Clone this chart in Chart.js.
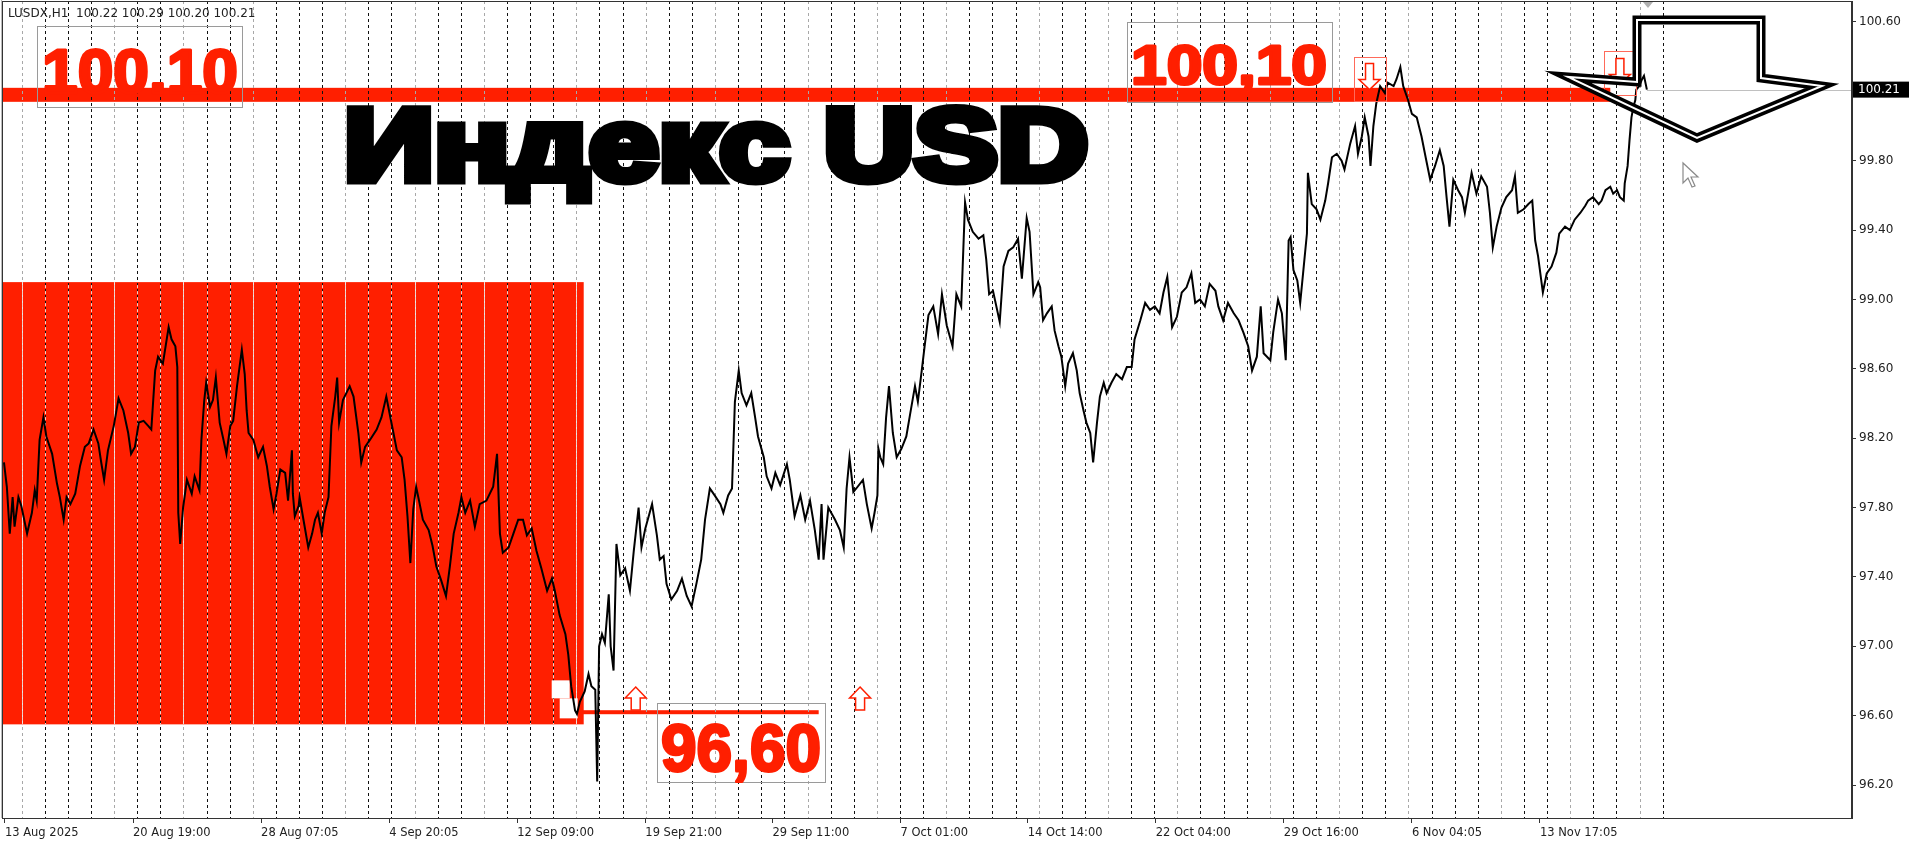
<!DOCTYPE html>
<html lang="ru">
<head>
<meta charset="UTF-8">
<title>Индекс USD</title>
<script src="https://cdn.jsdelivr.net/npm/chart.js@4.4.1/dist/chart.umd.min.js"></script>
<style>
  html, body { margin: 0; padding: 0; background: #fff; }
  #wrap { width: 1919px; height: 841px; }
</style>
</head>
<body>
<div id="wrap"><canvas id="usdx" width="1919" height="841"></canvas></div>
<script>
// H1 bar number counted from 13 Aug 2025 00:00, and the close
const bars = [
  0, 3, 6, 9, 11, 15, 18, 24, 29, 32, 34, 37, 41, 44, 50, 55, 58, 62, 65, 69,
  74, 79, 84, 88, 93, 98, 101, 104, 108, 114, 119, 124, 129, 132, 136, 140, 145, 150, 153, 157,
  160, 165, 171, 174, 178, 180, 181, 183, 186, 190, 195, 198, 203, 205, 208, 210, 214, 217, 220, 224,
  228, 231, 235, 238, 242, 247, 250, 252, 254, 259, 264, 269, 273, 276, 280, 283, 287, 292, 295, 299,
  300, 302, 306, 307, 311, 316, 320, 323, 326, 330, 333, 337, 340, 344, 346, 348, 352, 359, 363, 368,
  371, 375, 380, 387, 392, 397, 403, 408, 413, 416, 419, 422, 425, 428, 431, 435, 441, 445, 449, 454,
  459, 463, 467, 472, 475, 479, 484, 489, 494, 501, 508, 512, 515, 518, 524, 529, 534,
  539, 543, 548, 553, 558, 564, 569, 572, 577, 583, 586, 589, 593, 595, 598, 603, 607, 610, 614, 616,
  618, 621, 624, 628, 630, 633, 636, 640, 645, 650, 654, 659, 662, 666, 673, 678, 681, 685, 688, 693,
  699, 704, 709, 714, 719, 724, 728, 733, 738, 744, 747, 752, 756, 759, 763, 766, 771, 776, 780, 783,
  789, 792, 797, 801, 806, 813, 816, 821, 827, 832, 837, 842, 846, 849, 851, 856, 863, 868, 872, 875,
  878, 882, 885, 892, 896, 901, 904, 907, 908, 910, 913, 916, 919, 923, 927, 932, 937, 941, 946, 949,
  953, 956, 960, 965, 970, 974, 979, 985, 989, 994, 998, 1001, 1006, 1012, 1017, 1020, 1023, 1027, 1034, 1038,
  1043, 1048, 1053, 1057, 1062, 1065, 1069, 1074,
  1076, 1079, 1083, 1088, 1091, 1095, 1098, 1102, 1105, 1110, 1114, 1117, 1121, 1124, 1128, 1131, 1135, 1138, 1142, 1145,
  1150, 1155, 1161, 1166, 1171, 1174, 1180, 1185, 1190, 1195, 1200, 1204, 1208, 1213, 1218, 1223, 1228, 1233, 1237, 1242,
  1247, 1252, 1258, 1261, 1266, 1271, 1277, 1282, 1287, 1292, 1296, 1301, 1305, 1308, 1315, 1318, 1323, 1327, 1331, 1334,
  1336, 1339, 1343, 1346, 1349, 1353, 1354, 1358, 1363, 1367, 1372, 1375, 1379, 1384, 1389, 1392, 1398, 1403, 1406, 1410,
  1413, 1417, 1419, 1422, 1425, 1429, 1434, 1437, 1443, 1446, 1450, 1453, 1458, 1462, 1467, 1472, 1477, 1481, 1486, 1491,
  1495, 1498, 1501, 1505, 1510, 1514, 1517, 1521, 1524, 1529, 1534, 1540, 1543, 1546, 1550, 1555, 1560, 1566, 1569, 1572,
  1578, 1583, 1587, 1590, 1593, 1598, 1602, 1607, 1612, 1615,
  1621, 1626, 1631, 1637, 1642, 1645, 1650, 1656, 1659, 1663, 1668, 1671, 1675, 1678, 1682, 1683, 1686, 1688, 1690, 1692,
  1694, 1695, 1698, 1701, 1703, 1706
];
const closes = [
  98.06, 97.92, 97.65, 97.86, 97.69, 97.86, 97.81, 97.65, 97.77, 97.90, 97.84, 98.19, 98.32, 98.21, 98.11, 97.94, 97.86, 97.73, 97.86, 97.82,
  97.88, 98.04, 98.15, 98.17, 98.25, 98.17, 98.06, 97.96, 98.13, 98.27, 98.43, 98.36, 98.23, 98.11, 98.15, 98.29, 98.30, 98.27, 98.25, 98.59,
  98.67, 98.63, 98.84, 98.77, 98.73, 98.61, 97.77, 97.59, 97.80, 97.96, 97.88, 97.98, 97.90, 98.19, 98.42, 98.52, 98.38, 98.42, 98.55, 98.29,
  98.19, 98.11, 98.27, 98.30, 98.50, 98.71, 98.57, 98.36, 98.23, 98.19, 98.09, 98.15, 98.04, 97.92, 97.79, 97.88, 98.02, 98.00, 97.84, 98.13,
  97.88, 97.75, 97.81, 97.86, 97.73, 97.57, 97.65, 97.73, 97.77, 97.65, 97.77, 97.86, 98.27, 98.44, 98.55, 98.29, 98.42, 98.50, 98.44, 98.23,
  98.06, 98.15, 98.19, 98.25, 98.32, 98.44, 98.27, 98.13, 98.09, 97.96, 97.75, 97.48, 97.79, 97.92, 97.84, 97.73, 97.67, 97.58, 97.46, 97.38,
  97.29, 97.46, 97.65, 97.77, 97.86, 97.77, 97.84, 97.69, 97.82, 97.84, 97.92, 98.11, 97.65, 97.54, 97.57, 97.65, 97.73,
  97.73, 97.64, 97.68, 97.55, 97.45, 97.32, 97.39, 97.32, 97.18, 97.07, 96.95, 96.77, 96.63, 96.61, 96.68, 96.74, 96.84, 96.77, 96.75, 96.22,
  97.00, 97.07, 97.02, 97.30, 97.00, 96.86, 97.59, 97.41, 97.45, 97.32, 97.55, 97.80, 97.57, 97.68, 97.82, 97.64, 97.50, 97.52, 97.36, 97.27,
  97.32, 97.39, 97.29, 97.23, 97.36, 97.50, 97.73, 97.91, 97.87, 97.82, 97.77, 97.87, 97.91, 98.41, 98.59, 98.46, 98.39, 98.46, 98.32, 98.21,
  98.09, 97.98, 97.91, 98.00, 97.93, 98.05, 97.96, 97.75, 97.87, 97.73, 97.84, 97.67, 97.50, 97.82, 97.50, 97.80, 97.73, 97.67, 97.57, 97.91,
  98.09, 97.89, 97.91, 97.96, 97.82, 97.68, 97.77, 97.87, 98.14, 98.09, 98.05, 98.32, 98.50, 98.23, 98.09, 98.14, 98.21, 98.34, 98.50, 98.41,
  98.59, 98.73, 98.91, 98.96, 98.80, 99.03, 98.85, 98.73, 99.03, 98.96, 99.56, 99.46, 99.39, 99.35, 99.37, 99.23, 99.03, 99.05, 98.87, 99.19,
  99.28, 99.30, 99.35, 99.12, 99.47, 99.39, 99.03, 99.10,
  99.07, 98.88, 98.92, 98.96, 98.82, 98.73, 98.67, 98.50, 98.63, 98.69, 98.59, 98.46, 98.36, 98.29, 98.23, 98.06, 98.29, 98.44, 98.52, 98.46,
  98.52, 98.57, 98.54, 98.61, 98.61, 98.77, 98.88, 98.98, 98.94, 98.96, 98.92, 99.04, 99.13, 98.84, 98.90, 99.04, 99.07, 99.15, 98.98, 99.00,
  98.96, 99.09, 99.05, 98.96, 98.88, 98.98, 98.92, 98.88, 98.81, 98.73, 98.59, 98.67, 98.96, 98.69, 98.65, 98.81, 99.00, 98.92, 98.65, 99.34,
  99.36, 99.17, 99.11, 98.98, 99.15, 99.38, 99.73, 99.55, 99.52, 99.46, 99.57, 99.67, 99.82, 99.84, 99.80, 99.75, 99.90, 100.00, 99.84, 99.94,
  100.05, 99.94, 99.77, 100.00, 100.13, 100.23, 100.19, 100.25, 100.23, 100.27, 100.34, 100.23, 100.15, 100.07, 100.05, 99.94, 99.80, 99.69, 99.77, 99.86,
  99.77, 99.59, 99.42, 99.69, 99.63, 99.59, 99.50, 99.63, 99.73, 99.61, 99.71, 99.65, 99.50, 99.30, 99.42, 99.53, 99.59, 99.63, 99.71, 99.50,
  99.52, 99.55, 99.57, 99.34, 99.25, 99.04, 99.15, 99.19, 99.27, 99.38,
  99.42, 99.40, 99.46, 99.50, 99.54, 99.57, 99.59, 99.55, 99.57, 99.63, 99.65, 99.61, 99.63, 99.59, 99.57, 99.67, 99.77, 99.92, 100.05, 100.11,
  100.15, 100.21, 100.23, 100.27, 100.29, 100.21
];

const timeLabels = ['13 Aug 2025', '20 Aug 19:00', '28 Aug 07:05', '4 Sep 20:05', '12 Sep 09:00', '19 Sep 21:00',
  '29 Sep 11:00', '7 Oct 01:00', '14 Oct 14:00', '22 Oct 04:00', '29 Oct 16:00', '6 Nov 04:05', '13 Nov 17:05'];
const timeLabelBars = [1, 134, 267, 400, 533, 666, 798, 931, 1063, 1196, 1329, 1462, 1595];
const priceTicks = [96.2, 96.6, 97.0, 97.4, 97.8, 98.2, 98.6, 99.0, 99.4, 99.8, 100.2, 100.6];

// drawn objects
const zoneBars = [-1, 602];
const zonePrices = [99.10, 96.55];
const resistance = 100.18;
const resistanceBars = [-1, 1668];
const support = 96.62;
const supportBars = [601, 846];
const lastPrice = 100.21;
const lastPriceFrom = 1706;
const upArrowBars = [656, 889];
const upArrowPrice = 96.765;
const downArrowBars = [1418, 1678];
const downArrowPrices = [100.21, 100.24];
const header = 'LUSDX,H1  100.22 100.29 100.20 100.21';

const RED = '#ff1f00';

function fitText(ctx, text, left, capTop, width, capH, color, stroke, join) {
  const size = capH / 0.716;
  ctx.save();
  ctx.font = 'bold ' + size + 'px "Liberation Sans", Arial, sans-serif';
  const w = ctx.measureText(text).width;
  ctx.translate(left, capTop + capH);
  ctx.scale(width / w, 1);
  ctx.textBaseline = 'alphabetic';
  ctx.textAlign = 'left';
  ctx.fillStyle = color;
  ctx.fillText(text, 0, 0);
  if (stroke) {
    ctx.lineWidth = stroke;
    ctx.lineJoin = join || 'round';
    ctx.miterLimit = 2;
    ctx.strokeStyle = color;
    ctx.strokeText(text, 0, 0);
  }
  ctx.restore();
}

function hollowArrow(ctx, cx, tipY, dir, w, h, shaftW, headH) {
  // dir = -1 points up, 1 points down
  const base = tipY - dir * h;
  const neck = tipY - dir * headH;
  ctx.beginPath();
  ctx.moveTo(cx, tipY);
  ctx.lineTo(cx + w / 2, neck);
  ctx.lineTo(cx + shaftW / 2, neck);
  ctx.lineTo(cx + shaftW / 2, base);
  ctx.lineTo(cx - shaftW / 2, base);
  ctx.lineTo(cx - shaftW / 2, neck);
  ctx.lineTo(cx - w / 2, neck);
  ctx.closePath();
  ctx.fillStyle = '#fff';
  ctx.fill();
  ctx.stroke();
}

const overlay = {
  id: 'overlay',
  beforeDatasetsDraw(chart) {
    const { ctx, chartArea: a, scales: { x, y } } = chart;
    ctx.save();
    ctx.beginPath();
    ctx.rect(a.left, a.top, a.width, a.height);
    ctx.clip();

    // red zone
    const zx1 = x.getPixelForValue(zoneBars[0]), zx2 = x.getPixelForValue(zoneBars[1]);
    const zy1 = y.getPixelForValue(zonePrices[0]), zy2 = y.getPixelForValue(zonePrices[1]);
    ctx.fillStyle = RED;
    ctx.fillRect(zx1, zy1, zx2 - zx1, zy2 - zy1);

    // resistance band
    const ry = y.getPixelForValue(resistance);
    const rx1 = x.getPixelForValue(resistanceBars[0]), rx2 = x.getPixelForValue(resistanceBars[1]);
    ctx.fillRect(rx1, ry - 7, rx2 - rx1, 14);

    // support line
    const sy = y.getPixelForValue(support);
    const sx1 = x.getPixelForValue(supportBars[0]), sx2 = x.getPixelForValue(supportBars[1]);
    ctx.fillRect(sx1, sy - 2, sx2 - sx1, 4);

    // last price line
    ctx.strokeStyle = '#c0c0c0';
    ctx.lineWidth = 1;
    const ly = Math.round(y.getPixelForValue(lastPrice)) + 0.5;
    ctx.beginPath();
    ctx.moveTo(x.getPixelForValue(lastPriceFrom), ly);
    ctx.lineTo(a.right, ly);
    ctx.stroke();

    // daily separators
    ctx.lineWidth = 1;
    for (let k = 0; k < 72; k++) {
      const sx = Math.round(x.getPixelForValue(18.4 + 24 * k)) + 0.5;
      const gray = [0, 4, 7].includes(k % 10);
      ctx.setLineDash([3, 3]);
      ctx.lineDashOffset = 0;
      ctx.strokeStyle = gray ? '#a8a8a8' : '#111';
      ctx.beginPath();
      ctx.moveTo(sx, a.top);
      ctx.lineTo(sx, a.bottom);
      ctx.stroke();
      // inside the red zone the gaps show light
      if (sx < zx2) {
        ctx.lineDashOffset = 3;
        ctx.strokeStyle = '#f4d0c8';
        ctx.beginPath();
        ctx.moveTo(sx, zy1);
        ctx.lineTo(sx, zy2);
        ctx.stroke();
        if (gray) {
          ctx.lineDashOffset = 0;
          ctx.strokeStyle = '#e6e6e6';
          ctx.beginPath();
          ctx.moveTo(sx, zy1);
          ctx.lineTo(sx, zy2);
          ctx.stroke();
        }
      }
    }
    ctx.setLineDash([]);

    // anchor squares at the zone corner
    ctx.fillStyle = '#fff';
    ctx.fillRect(zx2 - 32, zy2 - 44, 18, 18);
    ctx.fillRect(zx2 - 24, zy2 - 26, 18, 20);
    ctx.restore();
  },
  afterDatasetsDraw(chart) {
    const { ctx, chartArea: a, scales: { x, y } } = chart;
    ctx.save();

    // header
    ctx.font = '12px "DejaVu Sans", sans-serif';
    ctx.fillStyle = '#222';
    ctx.textBaseline = 'middle';
    ctx.fillText(header, 8, 14);

    // label boxes
    ctx.strokeStyle = '#9a9a9a';
    ctx.lineWidth = 1;
    ctx.strokeRect(37.5, 26.5, 205, 81);
    ctx.strokeRect(1127.5, 22.5, 205, 80);
    ctx.strokeRect(657.5, 703.5, 168, 79);

    fitText(ctx, '100.10', 42, 48, 196, 45, RED, 3);
    fitText(ctx, '100,10', 1131, 44, 196, 40, RED, 3);
    fitText(ctx, '96,60', 661, 723, 160, 48, RED, 3);
    fitText(ctx, 'Индекс USD', 344, 107, 744, 73, '#000', 9, 'miter');

    // small arrows
    ctx.strokeStyle = RED;
    ctx.lineWidth = 1.5;
    upArrowBars.forEach(b => {
      hollowArrow(ctx, x.getPixelForValue(b), y.getPixelForValue(upArrowPrice), -1, 21, 23, 9, 11);
    });
    downArrowBars.forEach((b, i) => {
      const cx = x.getPixelForValue(b), ty = y.getPixelForValue(downArrowPrices[i]);
      ctx.strokeStyle = '#ff6a5a';
      ctx.lineWidth = 1;
      ctx.strokeRect(Math.round(cx - 16) + 0.5, Math.round(ty - 33) + 0.5, 32, 44);
      ctx.strokeStyle = RED;
      ctx.lineWidth = 1.5;
      hollowArrow(ctx, cx, ty, 1, 21, 26, 8, 10);
    });

    // big down arrow
    const pts = [[1637, 20], [1761, 20], [1761, 78], [1822, 86], [1697, 138], [1568, 77], [1637, 82]];
    ctx.beginPath();
    pts.forEach((p, i) => i ? ctx.lineTo(p[0], p[1]) : ctx.moveTo(p[0], p[1]));
    ctx.closePath();
    ctx.lineJoin = 'miter';
    ctx.strokeStyle = '#000';
    ctx.lineWidth = 9;
    ctx.stroke();
    ctx.strokeStyle = '#fff';
    ctx.lineWidth = 2;
    ctx.stroke();

    // mouse pointer
    const c = [[0, 0], [0, 20], [5, 15], [9, 24], [12, 23], [8, 14], [15, 14]];
    ctx.beginPath();
    c.forEach((p, i) => i ? ctx.lineTo(1683 + p[0], 163 + p[1]) : ctx.moveTo(1683 + p[0], 163 + p[1]));
    ctx.closePath();
    ctx.fillStyle = '#fff';
    ctx.fill();
    ctx.strokeStyle = '#8a8a8a';
    ctx.lineWidth = 1.2;
    ctx.stroke();

    // shift marker
    ctx.fillStyle = '#b0b0b0';
    ctx.beginPath();
    ctx.moveTo(1643, 2);
    ctx.lineTo(1653, 2);
    ctx.lineTo(1648, 8);
    ctx.closePath();
    ctx.fill();
    ctx.restore();
  },
  afterDraw(chart) {
    const { ctx, chartArea: a, scales: { y } } = chart;
    ctx.save();
    ctx.strokeStyle = '#333';
    ctx.lineWidth = 1;
    ctx.strokeRect(a.left - 0.5, a.top + 0.5, a.width, a.height);
    ctx.strokeStyle = '#bbb';
    ctx.beginPath();
    ctx.moveTo(1.5, 0);
    ctx.lineTo(1.5, a.bottom);
    ctx.stroke();

    // last price tag
    const ly = y.getPixelForValue(lastPrice);
    ctx.fillStyle = '#000';
    ctx.fillRect(a.right + 1, ly - 8, 56, 16);
    ctx.fillStyle = '#fff';
    ctx.font = '12px "DejaVu Sans", sans-serif';
    ctx.textBaseline = 'middle';
    ctx.fillText(lastPrice.toFixed(2), a.right + 6, ly);
    ctx.restore();
  }
};

new Chart(document.getElementById('usdx'), {
  type: 'line',
  data: {
    datasets: [{
      data: bars.map((b, i) => ({ x: b, y: closes[i] })),
      borderColor: '#000',
      borderWidth: 2,
      pointRadius: 0,
      tension: 0
    }]
  },
  options: {
    responsive: false,
    animation: false,
    layout: { padding: { left: 3, top: 1, right: 0, bottom: 0 } },
    plugins: { legend: { display: false }, tooltip: { enabled: false } },
    scales: {
      x: {
        type: 'linear', position: 'bottom', min: -1, max: 1919,
        afterBuildTicks: s => { s.ticks = timeLabelBars.map(v => ({ value: v })); },
        afterFit: s => { s.height = 23; s.paddingLeft = 0; s.paddingRight = 0; },
        ticks: {
          autoSkip: false, maxRotation: 0, minRotation: 0, align: 'start', padding: 3,
          color: '#222', font: { family: 'DejaVu Sans', size: 11.5 },
          callback: (v, i) => timeLabels[i]
        },
        grid: { drawOnChartArea: false, drawTicks: true, tickLength: 5, color: '#333' },
        border: { display: true, color: '#333' }
      },
      y: {
        type: 'linear', position: 'right', min: 96.01, max: 100.721,
        afterBuildTicks: s => { s.ticks = priceTicks.map(v => ({ value: v })); },
        afterFit: s => { s.width = 67; s.paddingTop = 0; s.paddingBottom = 0; },
        ticks: {
          padding: 3, color: '#222', font: { family: 'DejaVu Sans', size: 12 },
          callback: v => v.toFixed(2)
        },
        grid: { drawOnChartArea: false, drawTicks: true, tickLength: 4, color: '#333' },
        border: { display: true, color: '#333' }
      }
    }
  },
  plugins: [overlay]
});
</script>
</body>
</html>
